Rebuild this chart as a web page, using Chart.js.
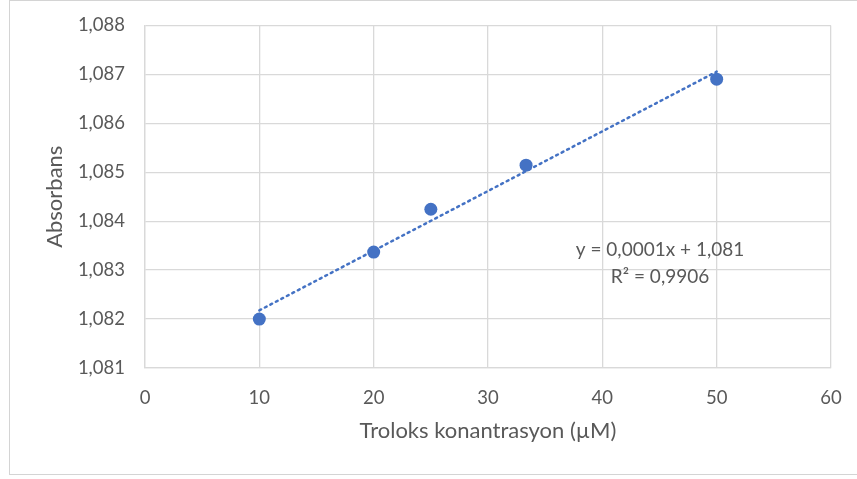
<!DOCTYPE html>
<html>
<head>
<meta charset="utf-8">
<script src="https://cdn.jsdelivr.net/npm/chart.js@4/dist/chart.umd.min.js"></script>
<style>
  html, body { margin: 0; padding: 0; background: #fff; }
  #wrap { position: relative; width: 857px; height: 479px; overflow: hidden; }
  #frame { position: absolute; left: 9px; top: 0px; width: 900px; height: 475px; border: 1.5px solid #d4d4d4; box-sizing: border-box; }
  canvas { position: absolute; left: 0; top: 0; }
</style>
</head>
<body>
<div id="wrap">
  <div id="frame"></div>
  <canvas id="c" width="857" height="479"></canvas>
</div>
<script>
// Data
const concentrations = [10, 20, 25, 33.33, 50];          // Troloks konantrasyon (µM)
const absorbances    = [1.0820, 1.08337, 1.084245, 1.085145, 1.086904];
const xTicks = [0, 10, 20, 30, 40, 50, 60];
const yTicks = [1.081, 1.082, 1.083, 1.084, 1.085, 1.086, 1.087, 1.088];
const equationText = 'y = 0,0001x + 1,081';
const r2Text = 'R² = 0,9906';
const xTitle = 'Troloks konantrasyon (µM)';
const yTitle = 'Absorbans';

// Least-squares trendline computed from the data
const n = concentrations.length;
const mx = concentrations.reduce((a, b) => a + b, 0) / n;
const my = absorbances.reduce((a, b) => a + b, 0) / n;
let sxy = 0, sxx = 0;
for (let i = 0; i < n; i++) {
  sxy += (concentrations[i] - mx) * (absorbances[i] - my);
  sxx += (concentrations[i] - mx) ** 2;
}
const slope = sxy / sxx;
const intercept = my - slope * mx;
const xFirst = Math.min(...concentrations), xLast = Math.max(...concentrations);
const trend = [{ x: xFirst, y: intercept + slope * xFirst }, { x: xLast, y: intercept + slope * xLast }];

const TEXT = '#595959';
const GRID = '#d9d9d9';
const BLUE = '#4472C4';
const FONT = 'Lato, "Open Sans", sans-serif';

// label anchor (data units)
const labelAnchor = { x: 45.05, y1: 1.083407, y2: 1.082856 };

const annotation = {
  id: 'eqLabel',
  afterDatasetsDraw(chart) {
    const { ctx, scales } = chart;
    ctx.save();
    ctx.fillStyle = TEXT;
    ctx.font = '19px ' + FONT;
    ctx.textAlign = 'center';
    ctx.textBaseline = 'middle';
    const px = scales.x.getPixelForValue(labelAnchor.x);
    ctx.fillText(equationText, px, scales.y.getPixelForValue(labelAnchor.y1));
    ctx.fillText(r2Text, px, scales.y.getPixelForValue(labelAnchor.y2));
    ctx.restore();
  }
};

new Chart(document.getElementById('c'), {
  type: 'scatter',
  data: {
    datasets: [
      {
        label: 'Absorbans',
        data: concentrations.map((x, i) => ({ x, y: absorbances[i] })),
        backgroundColor: BLUE,
        borderColor: BLUE,
        pointRadius: 6.5,
        pointBorderWidth: 0,
        order: 1
      },
      {
        type: 'line',
        label: 'Trend',
        data: trend,
        borderColor: BLUE,
        borderWidth: 2.5,
        borderDash: [2, 4.2],
        borderCapStyle: 'round',
        pointRadius: 0,
        fill: false,
        order: 2
      }
    ]
  },
  options: {
    responsive: false,
    animation: false,
    layout: { padding: { left: 0, top: 25.5, right: 26, bottom: 0 } },
    plugins: { legend: { display: false }, tooltip: { enabled: false } },
    scales: {
      x: {
        type: 'linear',
        min: 0, max: 60,
        afterBuildTicks: (s) => { s.ticks = xTicks.map(v => ({ value: v })); },
        afterFit: (s) => { s.height = 111; s.paddingLeft = 0; s.paddingRight = 0; },
        grid: { color: GRID, lineWidth: 1.3, drawTicks: false },
        border: { color: GRID, width: 1.3 },
        ticks: { color: TEXT, font: { family: FONT, size: 18.5 }, padding: 19, maxRotation: 0,
                 callback: (v) => String(v) },
        title: { display: true, text: xTitle, color: TEXT, font: { family: FONT, size: 22 },
                 padding: { top: 0, bottom: 35 } }
      },
      y: {
        type: 'linear',
        min: 1.081, max: 1.088,
        afterBuildTicks: (s) => { s.ticks = yTicks.map(v => ({ value: v })); },
        afterFit: (s) => { s.width = 145; s.paddingTop = 0; s.paddingBottom = 0; },
        grid: { color: GRID, lineWidth: 1.3, drawTicks: false },
        border: { color: GRID, width: 1.3 },
        ticks: { color: TEXT, font: { family: FONT, size: 18.5 }, padding: 20,
                 callback: (v) => Number(v).toFixed(3).replace('.', ',') },
        title: { display: true, text: yTitle, color: TEXT, font: { family: FONT, size: 22 },
                 padding: { top: 42, bottom: 0 } }
      }
    }
  },
  plugins: [annotation]
});
</script>
</body>
</html>
